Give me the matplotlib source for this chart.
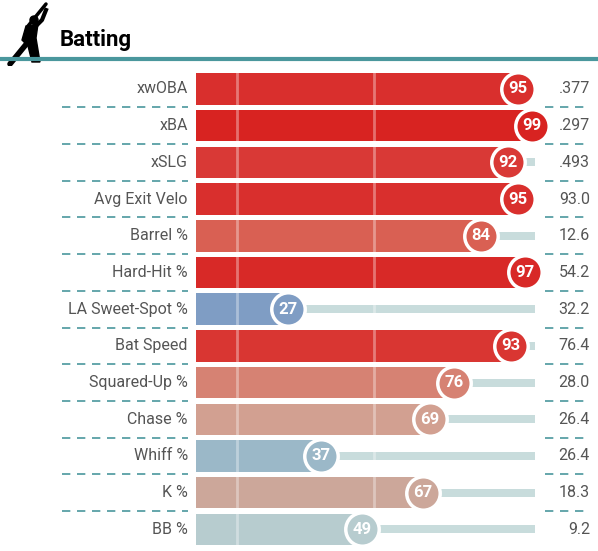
import matplotlib.pyplot as plt
from matplotlib.colors import LinearSegmentedColormap

plt.rcParams['font.family'] = ['Roboto', 'DejaVu Sans']

metrics = ["xwOBA", "xBA", "xSLG", "Avg Exit Velo", "Barrel %", "Hard-Hit %",
           "LA Sweet-Spot %", "Bat Speed", "Squared-Up %", "Chase %", "Whiff %", "K %", "BB %"]
percentiles = [95, 99, 92, 95, 84, 97, 27, 93, 76, 69, 37, 67, 49]
values = [".377", ".297", ".493", "93.0", "12.6", "54.2", "32.2", "76.4", "28.0", "26.4", "26.4", "18.3", "9.2"]

cmap = LinearSegmentedColormap.from_list("pct", [
    (0, '#3b6bb5'), (0.27, '#7f9dc4'), (0.37, '#9bb8c8'), (0.49, '#b7cccf'),
    (0.67, '#cca79a'), (0.69, '#d2a091'), (0.76, '#d68273'), (0.84, '#d96254'),
    (0.92, '#d93a36'), (1, '#d8201f')])

W, H = 598, 551
fig = plt.figure(figsize=(W / 100, H / 100), dpi=100, facecolor='white')

# header
fig.text(60 / W, 1 - 40 / H, "Batting", fontsize=16, fontweight='bold', va='center', ha='left')
fig.add_artist(plt.Line2D([0, 1], [1 - 59 / H] * 2, color='#4a979d', lw=3))
# crude batter silhouette
sil = fig.add_axes([0, 1 - 66 / H, 50 / W, 64 / H])
sil.set_xlim(0, 50); sil.set_ylim(0, 64); sil.axis('off')
sil.plot([28, 46], [40, 62], color='black', lw=2.5, solid_capstyle='round')
sil.add_patch(plt.Circle((34, 46), 4, color='black'))
sil.fill([26, 38, 36, 40, 32, 28, 22], [40, 42, 28, 4, 4, 20, 26], color='black')
sil.plot([28, 10], [24, 2], color='black', lw=4, solid_capstyle='round')
sil.plot([36, 42, 46], [40, 46, 56], color='black', lw=3)

n = len(metrics)
top, pitch = 89 - 36.7 / 2, 36.7
ax = fig.add_axes([196 / W, 1 - (top + n * pitch) / H, 339 / W, n * pitch / H])
ax.set_xlim(0, 100)
ax.set_ylim(n - 0.5, -0.5)
ax.axis('off')

for i, (m, p, v) in enumerate(zip(metrics, percentiles, values)):
    c = cmap(p / 100)
    ax.barh(i, 100, height=0.22, color='#c8dcdc', zorder=1)
    ax.barh(i, p, height=0.86, color=c, zorder=2)
    ax.scatter(p, i, s=580, color=c, edgecolors='white', linewidths=2.5, zorder=4,
               clip_on=False)
    ax.text(p, i, str(p), color='white', fontsize=12, fontweight='bold',
            ha='center', va='center', zorder=5)
    ax.text(-2.4, i, m, ha='right', va='center', fontsize=11.5, color='#555555')
    ax.text(116.2, i, v, ha='right', va='center', fontsize=11.5, color='#555555', clip_on=False)
    if i < n - 1:
        for x0, x1 in [(-39.5, -2.4), (103, 116.2)]:
            ax.plot([x0, x1], [i + 0.5] * 2, color='#4a979d', lw=1.2,
                    ls=(0, (5, 4)), clip_on=False)

for xv in (12, 52.5):
    ax.axvline(xv, color='white', alpha=0.35, lw=2, zorder=3)

fig.savefig('out.png', dpi=100, facecolor='white')
